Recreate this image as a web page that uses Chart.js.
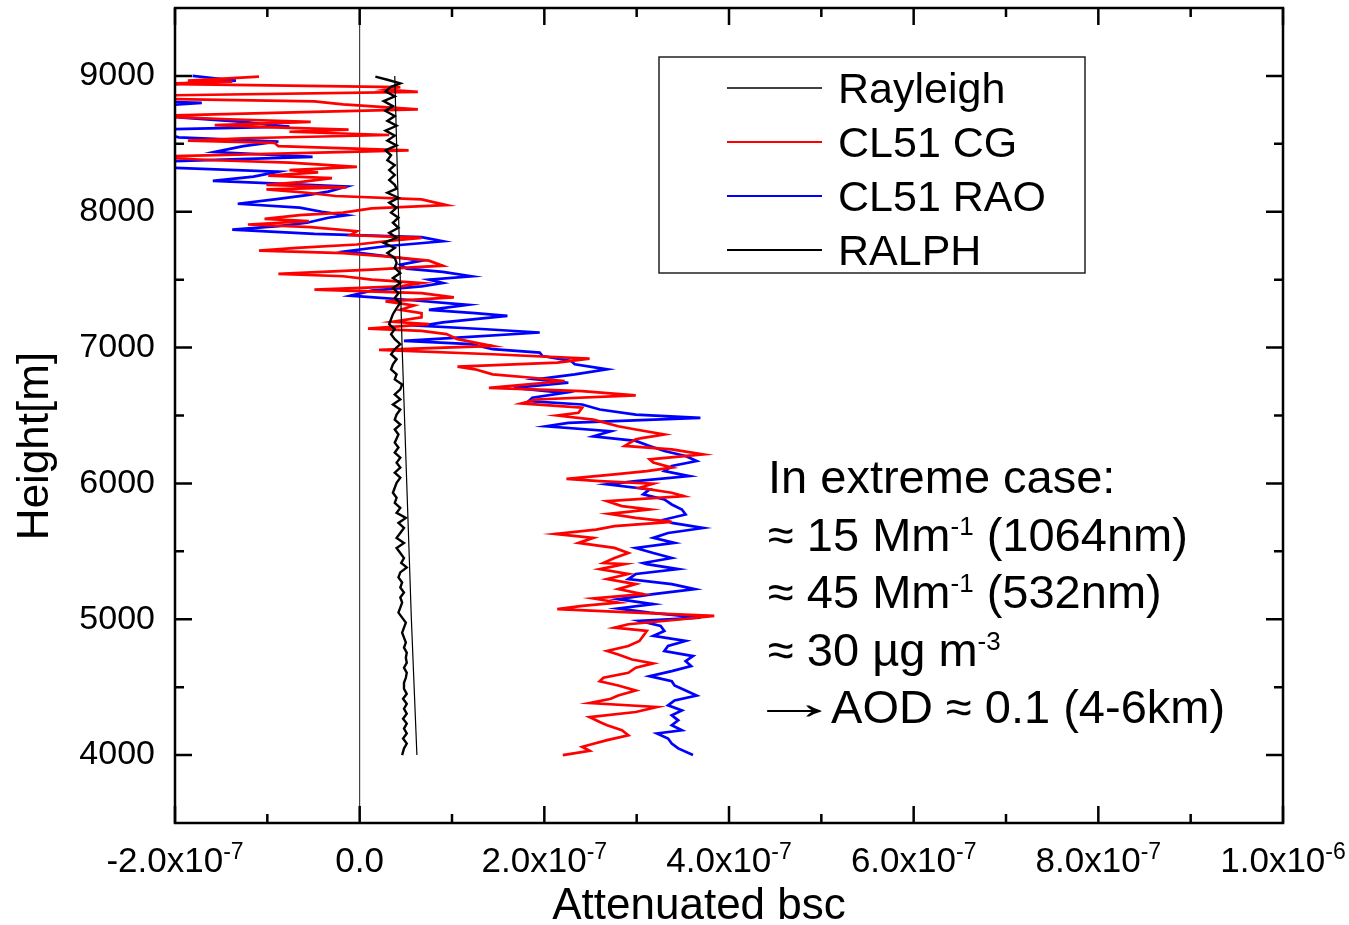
<!DOCTYPE html>
<html>
<head>
<meta charset="utf-8">
<title>Attenuated bsc profiles</title>
<script src="https://cdn.jsdelivr.net/npm/chart.js@4.4.1/dist/chart.umd.min.js"></script>
<style>
  html, body { margin: 0; padding: 0; background: #fff; }
  canvas { display: block; }
</style>
</head>
<body>
<canvas id="chart" width="1349" height="925"></canvas>
<script>
// x values are in units of 1e-7 (attenuated bsc), heights in m

// Rayleigh (thin black)
const rayleighHeight = [4000, 5000, 6000, 7000, 8000, 9000];
const rayleighX = [0.62, 0.56, 0.51, 0.46, 0.42, 0.38];

// CL51 CG (red)
const cgHeight = [
  8995, 8966, 8957, 8942, 8918, 8899, 8882, 8855, 8831, 8812, 8790, 8754, 8734, 8705, 8681, 8662, 8638, 8618, 8604, 8589,
  8565, 8541, 8524, 8507, 8483, 8452, 8428, 8404, 8379, 8362, 8331, 8307, 8290, 8266, 8247, 8218, 8198, 8179,
  8165, 8140, 8116, 8091, 8049, 8025, 7993, 7975, 7948, 7931, 7906, 7887, 7857, 7828, 7808, 7783, 7759, 7734, 7714, 7695,
  7672, 7640, 7603, 7574, 7542, 7525, 7500, 7475, 7451, 7426, 7401, 7369, 7340, 7310, 7278, 7254,
  7222, 7190, 7172, 7140, 7123, 7099, 7062, 7012, 6983, 6951, 6919, 6889, 6860, 6840, 6803, 6778, 6754, 6704, 6680, 6648,
  6618, 6589, 6557, 6520, 6500, 6470, 6421, 6397, 6360, 6335,
  6325, 6276, 6251, 6214, 6177, 6153, 6116, 6091, 6066, 6034, 6017, 5998, 5968, 5931, 5906, 5869, 5833, 5808, 5776, 5746,
  5717, 5685, 5660, 5628, 5599, 5562, 5525, 5488, 5451, 5414,
  5406, 5369, 5333, 5296, 5259, 5222, 5185, 5153, 5123, 5099, 5074, 5049, 5025, 5000, 4963, 4938, 4914, 4877, 4840, 4803,
  4766, 4741, 4704, 4675, 4643, 4606, 4569, 4544,
  4512, 4476, 4439, 4415, 4383, 4354, 4317, 4280, 4244, 4220, 4183, 4146, 4110, 4061, 4032, 4000
];
const cgX = [
  -1.09, -1.86, -1.38, -2.2, 0.44, 0.28, 0.63, -2.3, -2.2, -0.49, -0.18, 0.63, -0.61, -2.3, -1.42, -0.53, -1.57, -0.76, -0.12, -0.76,
  0.32, -1.26, -1.86, -0.92, -0.88, 0.53, -0.88, -2.3, -1.57, -0.76, -0.03, -0.76, -0.45, -0.99, -0.30, -0.65, -1.01, -0.14,
  -1.01, -0.57, -0.26, 0.67, 0.94, 0.13, -0.18, -0.65, -1.03, -0.55, -1.21, -0.53, -0.03, -0.10, 0.67, 0.28, -0.03, -0.68, -1.09, -0.18,
  0.28, 0.75, 0.90, 0.13, -0.88, -0.18, 0.13, 0.67, 0.44, -0.49, 0.67, 1.02, 0.28, 0.59, 0.44, 0.67,
  0.67, 0.36, 0.75, 0.09, 0.67, 0.94, 1.06, 1.44, 0.21, 1.44, 2.49, 2.14, 1.06, 1.25, 1.44, 1.87, 2.22, 1.40, 2.41, 2.99,
  1.91, 1.75, 2.41, 2.37, 2.14, 2.53, 2.80, 2.99, 3.30, 3.07,
  2.99, 2.87, 3.38, 3.72, 3.14, 3.18, 3.38, 3.11, 2.76, 2.24, 2.60, 3.18, 3.03, 3.38, 3.51, 2.68, 2.84, 3.14, 2.70, 2.99,
  3.38, 2.76, 2.56, 2.12, 2.53, 2.37, 2.76, 2.91, 2.76, 2.64,
  2.87, 2.60, 2.91, 2.68, 2.99, 2.80, 3.07, 2.53, 2.80, 2.41, 2.14, 2.99, 3.84, 3.49, 2.91, 2.76, 3.11, 3.07, 3.03, 2.91,
  2.68, 2.80, 2.95, 3.18, 2.99, 2.91, 2.64, 2.60,
  2.80, 2.99, 2.80, 2.72, 2.49, 3.22, 2.99, 2.49, 2.60, 2.68, 2.84, 2.91, 2.68, 2.41, 2.49, 2.20
];

// CL51 RAO (blue)
const raoHeight = [
  9000, 8983, 8966, 8947, 8923, 8874, 8845, 8814, 8802, 8773, 8730, 8693, 8662, 8626, 8604, 8548, 8517, 8483, 8440, 8404,
  8367, 8331, 8295, 8259, 8227, 8186,
  8148, 8123, 8091, 8059, 8030, 8000, 7975, 7956, 7919, 7894, 7869, 7837, 7813, 7783, 7746, 7709, 7680, 7640, 7611, 7581,
  7557, 7525, 7500, 7475, 7451, 7419, 7382, 7352, 7315, 7278, 7254,
  7234, 7185, 7160, 7135, 7111, 7074, 7049, 7025, 6988, 6963, 6938, 6901, 6877, 6840, 6803, 6766, 6741, 6704, 6667, 6631,
  6606, 6581, 6544, 6507, 6483, 6446, 6421, 6384, 6347,
  6313, 6276, 6239, 6202, 6165, 6128, 6091, 6054, 6017, 5993, 5956, 5919, 5882, 5845, 5808, 5771, 5734, 5709, 5672, 5635,
  5599, 5562, 5525, 5488, 5451, 5414,
  5406, 5369, 5333, 5296, 5259, 5222, 5185, 5148, 5111, 5079, 5049, 5012, 4988, 4951, 4914, 4877, 4840, 4803, 4766, 4729,
  4692, 4655, 4618, 4581, 4544,
  4512, 4476, 4439, 4402, 4366, 4329, 4293, 4256, 4220, 4183, 4159, 4122, 4085, 4049, 4000
];
const raoX = [
  -1.81, -1.57, -1.34, -1.86, -2.3, -2.3, -2.1, -2.3, -1.71, -2.3, -2.3, -1.92, -1.26, -0.76, -2.3, -1.96, -0.88, -1.26, -1.57, -0.51,
  -2.3, -2.3, -0.88, -1.15, -1.59, -0.14,
  -0.34, -0.57, -0.92, -1.32, -0.65, -0.41, -0.14, -0.34, -0.57, -0.88, -1.38, -0.49, 0.67, 0.90, 0.28, -0.14, 0.21, 0.67, 0.44, 0.51,
  0.90, 1.21, 0.75, 0.90, 0.67, 0.13, -0.10, 0.51, 1.17, 0.75, 1.25,
  1.60, 0.90, 0.67, 1.37, 1.95, 1.06, 0.48, 1.21, 1.44, 1.95, 1.98, 2.29, 2.33, 2.68, 2.33, 1.91, 2.26, 1.67, 2.22, 1.87,
  1.83, 2.41, 2.60, 2.99, 3.69, 2.26, 2.02, 2.72, 2.53,
  2.99, 3.14, 3.30, 3.53, 3.65, 3.38, 3.30, 3.57, 2.99, 2.68, 3.14, 3.07, 3.30, 3.38, 3.49, 3.53, 3.30, 3.38, 3.72, 3.34,
  3.18, 3.41, 2.99, 3.18, 3.38, 3.07,
  3.11, 3.45, 2.99, 2.91, 3.38, 3.63, 3.18, 2.80, 3.18, 2.80, 3.14, 3.69, 3.03, 3.26, 3.30, 3.18, 3.53, 3.34, 3.30, 3.61,
  3.53, 3.59, 3.38, 3.14, 3.38,
  3.41, 3.53, 3.65, 3.41, 3.34, 3.49, 3.38, 3.45, 3.38, 3.49, 3.22, 3.34, 3.38, 3.45, 3.61
];

// RALPH (black)
const ralphHeight = [
  8995, 8972, 8945, 8920, 8886, 8850, 8814, 8778, 8742, 8705, 8669, 8633, 8597, 8560, 8524, 8488, 8452, 8416, 8379, 8343,
  8307, 8271, 8234, 8198,
  8170, 8140, 8103, 8067, 8030, 7993, 7956, 7919, 7882, 7845, 7808, 7771, 7734, 7697, 7660, 7623, 7586, 7549, 7512, 7475,
  7438, 7401, 7365, 7328, 7291,
  7246, 7209, 7172, 7135, 7099, 7062, 7025, 6988, 6951, 6914, 6877, 6840, 6803, 6766, 6729, 6692, 6655, 6618, 6581, 6544,
  6507, 6470, 6433, 6397, 6360,
  6300, 6264, 6227, 6190, 6153, 6116, 6079, 6042, 6005, 5968, 5931, 5894, 5857, 5820, 5783, 5746, 5709, 5672, 5635, 5599,
  5562, 5525, 5488, 5451, 5415,
  5382, 5345, 5308, 5271, 5234, 5197, 5160, 5123, 5086, 5049, 5012, 4975, 4938, 4901, 4865, 4828, 4791, 4754, 4717, 4680,
  4643, 4606, 4569, 4532,
  4488, 4451, 4415, 4378, 4341, 4305, 4268, 4232, 4195, 4159, 4122, 4085, 4049, 4000
];
const ralphX = [
  0.17, 0.30, 0.44, 0.34, 0.28, 0.38, 0.26, 0.36, 0.28, 0.38, 0.30, 0.40, 0.28, 0.38, 0.30, 0.40, 0.28, 0.34, 0.30, 0.38,
  0.32, 0.38, 0.32, 0.38,
  0.40, 0.30, 0.42, 0.32, 0.40, 0.34, 0.42, 0.36, 0.42, 0.32, 0.40, 0.26, 0.38, 0.30, 0.38, 0.40, 0.38, 0.44, 0.36, 0.44,
  0.36, 0.42, 0.38, 0.44, 0.40,
  0.36, 0.34, 0.32, 0.38, 0.34, 0.38, 0.44, 0.38, 0.34, 0.40, 0.36, 0.34, 0.40, 0.38, 0.46, 0.44, 0.38, 0.44, 0.36, 0.44,
  0.40, 0.38, 0.44, 0.38, 0.42,
  0.38, 0.42, 0.38, 0.44, 0.40, 0.44, 0.38, 0.44, 0.40, 0.38, 0.36, 0.40, 0.38, 0.44, 0.40, 0.50, 0.42, 0.48, 0.44, 0.40,
  0.48, 0.40, 0.44, 0.48, 0.45,
  0.51, 0.44, 0.42, 0.46, 0.44, 0.48, 0.44, 0.46, 0.44, 0.42, 0.46, 0.50, 0.48, 0.46, 0.48, 0.50, 0.48, 0.51, 0.50, 0.51,
  0.48, 0.51, 0.50, 0.48,
  0.48, 0.51, 0.47, 0.51, 0.48, 0.51, 0.47, 0.51, 0.48, 0.51, 0.47, 0.51, 0.48, 0.46
];

// axes
const xTickValues = [-2e-7, 0, 2e-7, 4e-7, 6e-7, 8e-7, 1e-6];
const xTickMain = ['-2.0x10', '0.0', '2.0x10', '4.0x10', '6.0x10', '8.0x10', '1.0x10'];
const xTickExp = ['-7', '', '-7', '-7', '-7', '-7', '-6'];
const xMinorValues = [-1e-7, 1e-7, 3e-7, 5e-7, 7e-7, 9e-7];
const yTickValues = [4000, 5000, 6000, 7000, 8000, 9000];
const yMinorValues = [4500, 5500, 6500, 7500, 8500];

// text box: [arrow, main, superscript, rest]
const noteLines = [
  ['', 'In extreme case:', '', ''],
  ['', '\u2248 15 Mm', '-1', ' (1064nm)'],
  ['', '\u2248 45 Mm', '-1', ' (532nm)'],
  ['', '\u2248 30 \u00b5g m', '-3', ''],
  ['\u2192', ' AOD \u2248 0.1 (4-6km)', '', '']
];

const SANS = "'Liberation Sans', Arial, sans-serif";

function toPoints(heights, xs) {
  return heights.map((h, i) => ({ x: xs[i] * 1e-7, y: h }));
}

const framePlugin = {
  id: 'framePlugin',
  afterDraw(chart) {
    const { ctx, chartArea: a, scales: { x, y } } = chart;
    ctx.save();
    ctx.strokeStyle = '#000';
    ctx.lineWidth = 2.5;
    ctx.strokeRect(a.left, a.top, a.right - a.left, a.bottom - a.top);

    ctx.beginPath();
    const tx = (v, len) => {
      const px = x.getPixelForValue(v);
      ctx.moveTo(px, a.bottom); ctx.lineTo(px, a.bottom - len);
      ctx.moveTo(px, a.top); ctx.lineTo(px, a.top + len);
    };
    const ty = (v, len) => {
      const py = y.getPixelForValue(v);
      ctx.moveTo(a.left, py); ctx.lineTo(a.left + len, py);
      ctx.moveTo(a.right, py); ctx.lineTo(a.right - len, py);
    };
    xTickValues.forEach(v => tx(v, 17));
    xMinorValues.forEach(v => tx(v, 9));
    yTickValues.forEach(v => ty(v, 17));
    yMinorValues.forEach(v => ty(v, 9));
    ctx.stroke();

    // x tick labels with exponents
    ctx.fillStyle = '#000';
    ctx.textBaseline = 'alphabetic';
    ctx.textAlign = 'left';
    xTickValues.forEach((v, i) => {
      const px = x.getPixelForValue(v);
      ctx.font = '35px ' + SANS;
      const wm = ctx.measureText(xTickMain[i]).width;
      ctx.font = '23px ' + SANS;
      const we = xTickExp[i] ? ctx.measureText(xTickExp[i]).width : 0;
      const start = px - (wm + we) / 2;
      ctx.font = '35px ' + SANS;
      ctx.fillText(xTickMain[i], start, 872);
      if (xTickExp[i]) {
        ctx.font = '23px ' + SANS;
        ctx.fillText(xTickExp[i], start + wm, 859);
      }
    });

    // axis titles
    ctx.font = '44px ' + SANS;
    ctx.textAlign = 'center';
    ctx.fillText('Attenuated bsc', 699, 919);
    ctx.save();
    ctx.translate(48, 446);
    ctx.rotate(-Math.PI / 2);
    ctx.fillText('Height[m]', 0, 0);
    ctx.restore();

    // legend
    const lg = { left: 659, top: 57, right: 1085, bottom: 273 };
    ctx.fillStyle = '#fff';
    ctx.fillRect(lg.left, lg.top, lg.right - lg.left, lg.bottom - lg.top);
    ctx.strokeStyle = '#222';
    ctx.lineWidth = 1.5;
    ctx.strokeRect(lg.left, lg.top, lg.right - lg.left, lg.bottom - lg.top);
    ctx.textAlign = 'left';
    ctx.font = '43px ' + SANS;
    chart.data.datasets.forEach((ds, i) => {
      const yy = 88 + i * 54;
      ctx.strokeStyle = ds.borderColor;
      ctx.lineWidth = Math.min(Math.max(ds.borderWidth, 1.4), 2.2);
      ctx.beginPath();
      ctx.moveTo(727, yy); ctx.lineTo(822, yy);
      ctx.stroke();
      ctx.fillStyle = '#000';
      ctx.fillText(ds.label, 838, yy + 15);
    });

    // annotation
    const base = [493, 551, 608, 666, 723];
    noteLines.forEach((ln, i) => {
      let cx = 768;
      ctx.font = '47px ' + SANS;
      if (ln[0]) {
        // long thin arrow, stretched horizontally
        ctx.save();
        ctx.translate(cx - 20, base[i] - 4);
        ctx.scale(1.95, 1);
        ctx.fillText(ln[0], 0, 0);
        ctx.restore();
        cx += 50;
      }
      ctx.fillText(ln[1], cx, base[i]);
      cx += ctx.measureText(ln[1]).width;
      if (ln[2]) {
        ctx.font = '26px ' + SANS;
        ctx.fillText(ln[2], cx, base[i] - 16);
        cx += ctx.measureText(ln[2]).width;
      }
      if (ln[3]) {
        ctx.font = '47px ' + SANS;
        ctx.fillText(ln[3], cx, base[i]);
      }
    });
    ctx.restore();
  }
};

new Chart(document.getElementById('chart'), {
  type: 'scatter',
  data: {
    datasets: [
      { label: 'Rayleigh', data: toPoints(rayleighHeight, rayleighX), borderColor: '#000', borderWidth: 1.2, order: 1 },
      { label: 'CL51 CG', data: toPoints(cgHeight, cgX), borderColor: '#ff0000', borderWidth: 2.7, order: 2 },
      { label: 'CL51 RAO', data: toPoints(raoHeight, raoX), borderColor: '#0000ff', borderWidth: 2.7, order: 3 },
      { label: 'RALPH', data: toPoints(ralphHeight, ralphX), borderColor: '#000', borderWidth: 2.4, order: 0 }
    ].map(ds => Object.assign(ds, { showLine: true, pointRadius: 0, fill: false, tension: 0 }))
  },
  options: {
    responsive: false,
    devicePixelRatio: 1,
    animation: false,
    events: [],
    layout: { padding: { left: 0, top: 8, right: 66, bottom: 0 } },
    plugins: { legend: { display: false }, tooltip: { enabled: false } },
    scales: {
      x: {
        type: 'linear',
        min: -2e-7,
        max: 1e-6,
        afterBuildTicks: s => { s.ticks = xTickValues.map(v => ({ value: v })); },
        afterFit: s => { s.height = 102; s.paddingLeft = 0; s.paddingRight = 0; },
        ticks: { display: false },
        border: { display: false },
        grid: {
          drawTicks: false,
          lineWidth: 1.2,
          color: c => (c.tick && c.tick.value === 0 ? '#444' : 'rgba(0,0,0,0)')
        }
      },
      y: {
        type: 'linear',
        min: 3500,
        max: 9500,
        afterBuildTicks: s => { s.ticks = yTickValues.map(v => ({ value: v })); },
        afterFit: s => { s.width = 175; s.paddingTop = 0; s.paddingBottom = 0; },
        ticks: {
          color: '#000',
          padding: 20,
          font: { family: SANS, size: 34 },
          callback: v => String(v)
        },
        border: { display: false },
        grid: { display: false, drawTicks: false }
      }
    }
  },
  plugins: [framePlugin]
});
</script>
</body>
</html>
